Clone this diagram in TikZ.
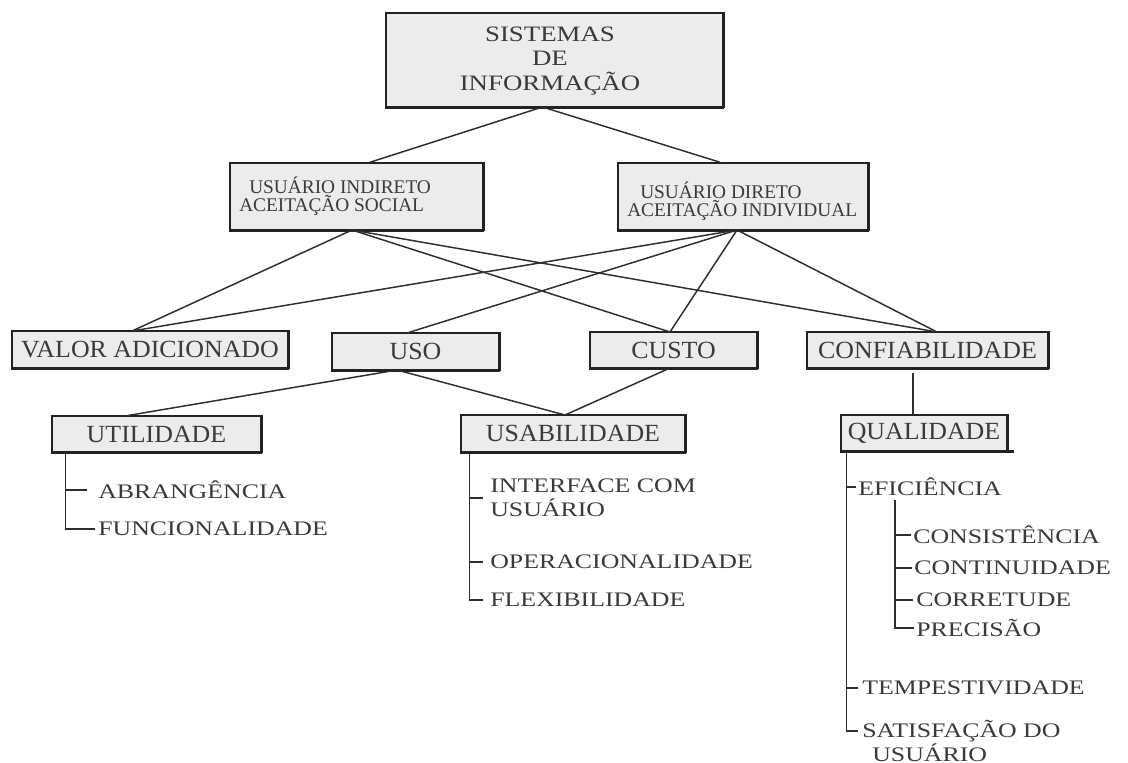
\documentclass[tikz,border=0pt]{standalone}
\usepackage{fontspec}
\setmainfont{Liberation Serif}
\newfontfamily\bxfont{Liberation Serif}[FakeStretch=1.05]
\newfontfamily\chfont{Liberation Serif}[FakeStretch=1.25]
\newfontfamily\tpfont{Liberation Serif}[FakeStretch=1.22]
\usetikzlibrary{calc}
\definecolor{txtc}{HTML}{3A3A3A}
\definecolor{boxfill}{HTML}{ECECEC}
\definecolor{edgec}{HTML}{222222}
\definecolor{linec}{HTML}{2E2E2E}
\begin{document}
\begin{tikzpicture}[x=0.75pt,y=-0.75pt,
  box/.style={draw=edgec,line width=1.1pt,fill=boxfill,inner sep=0pt,text=txtc,
    font=\bxfont\fontsize{18.5}{20}\selectfont},
  toptxt/.style={inner sep=0pt,text=txtc,align=center,font=\tpfont\fontsize{16.5}{18.4}\selectfont},
  usrtxt/.style={inner sep=0pt,text=txtc,align=left,anchor=west,font=\fontsize{14.5}{13.5}\selectfont},
  child/.style={inner ysep=0pt,text=txtc,anchor=west,align=left,font=\chfont\fontsize{15.5}{18}\selectfont},
  conn/.style={draw=linec,line width=1.1pt},
  shadowb/.style={draw=edgec,line width=2.4pt},
  shadowr/.style={draw=edgec,line width=1.6pt}]
\useasboundingbox (0,0) rectangle (1128,763);
\fill[white] (0,0) rectangle (1128,763);

% connector junctions
\coordinate (topj) at (542.5,107);
\coordinate (indj) at (352,230);
\coordinate (dirj) at (737,230);
\coordinate (valj) at (132,331);
\coordinate (usoj) at (407,333);
\coordinate (cusj) at (670,332);
\coordinate (conj) at (937,332);
\coordinate (usob) at (397,370);
\coordinate (cusb) at (670,368);
\coordinate (utij) at (125,416);
\coordinate (usaj) at (565,415);

% boxes
\node[box,minimum width=252.75pt,minimum height=70.5pt] (top) at (554.5,60) {};
\node[toptxt] (top-t) at (550,61) {SISTEMAS\\DE\\INFORMAÇÃO};
\node[box,minimum width=189.75pt,minimum height=50.25pt] (ind) at (356.5,196.5) {};
\node[usrtxt] (ind-t) at (239,196) {\hspace*{7.5pt}USUÁRIO INDIRETO\\ACEITAÇÃO SOCIAL};
\node[box,minimum width=187.5pt,minimum height=50.25pt] (dir) at (743,196.5) {};
\node[usrtxt] (dir-t) at (627,201) {\hspace*{9.75pt}USUÁRIO DIRETO\\ACEITAÇÃO INDIVIDUAL};
\node[box,minimum width=207pt,minimum height=27.75pt] (valor) at (150,349.5) {VALOR ADICIONADO};
\node[box,minimum width=125.25pt,minimum height=27.75pt] (uso) at (415.5,351.5) {USO};
\node[box,minimum width=125.25pt,minimum height=27pt] (custo) at (673.5,350) {CUSTO};
\node[box,minimum width=180.75pt,minimum height=27pt] (conf) at (927.5,350) {CONFIABILIDADE};
\node[box,minimum width=156.75pt,minimum height=27pt] (util) at (156.5,434) {UTILIDADE};
\node[box,minimum width=168pt,minimum height=27.75pt] (usab) at (573,433.5) {USABILIDADE};
\node[box,minimum width=124.5pt,minimum height=27pt] (qual) at (924,433) {QUALIDADE};

\foreach \n in {top,ind,dir,valor,uso,custo,conf,util,usab,qual}{
  \draw[shadowr] (\n.north east) -- (\n.south east);
  \draw[shadowb] (\n.south west) -- (\n.south east);
}
\draw[shadowb] (qual.south east) -- ++(6,0);

% upper connectors
\draw[conn] (topj) -- (ind.north -| 370,0);
\draw[conn] (topj) -- (dir.north -| 720,0);
\draw[conn] (indj) -- (valj);
\draw[conn] (indj) -- (cusj);
\draw[conn] (indj) -- (conj);
\draw[conn] (dirj) -- (valj);
\draw[conn] (dirj) -- (usoj);
\draw[conn] (dirj) -- (cusj);
\draw[conn] (dirj) -- (conj);
\draw[conn] (usob) -- (utij);
\draw[conn] (usob) -- (usaj);
\draw[conn] (cusb) -- (usaj);
\draw[conn] ([xshift=-8.25pt]qual.north) -- ([xshift=-8.25pt,yshift=-3pt]qual.north |- conf.south);

% UTILIDADE children
\node[child,inner xsep=8.25pt] (abr) at (87,490) {ABRANGÊNCIA};
\node[child,inner xsep=2.25pt] (fun) at (95,529) {FUNCIONALIDADE};
\draw[conn] ([xshift=10.5pt]util.south west) |- (fun.west);
\draw[conn] (abr.west) -- ++(-21,0);

% USABILIDADE children
\node[child,inner xsep=5.25pt] (intf) at (483,498) {INTERFACE COM\\USUÁRIO};
\node[child,inner xsep=5.25pt] (oper) at (483,562) {OPERACIONALIDADE};
\node[child,inner xsep=5.25pt] (flex) at (483,600) {FLEXIBILIDADE};
\draw[conn] ([xshift=6.75pt]usab.south west) |- (flex.west);
\draw[conn] (intf.west) -- ++(-13,0);
\draw[conn] (oper.west) -- ++(-13,0);

% QUALIDADE children
\node[child,inner xsep=1.5pt] (efic) at (856,487) {EFICIÊNCIA};
\node[child,inner xsep=3pt] (temp) at (858,688) {TEMPESTIVIDADE};
\node[child,inner xsep=3pt] (sat) at (858,731) {SATISFAÇÃO DO};
\node[child,inner xsep=0pt] (sat2) at (872,753) {USUÁRIO};
\draw[conn] ([xshift=4.5pt]qual.south west) |- (sat.west);
\draw[conn] (efic.west) -- ++(-9,0);
\draw[conn] (temp.west) -- ++(-11,0);

% EFICIENCIA children
\coordinate (esub) at (895,500);
\node[child,inner xsep=1.5pt] (cons) at (911,535) {CONSISTÊNCIA};
\node[child,inner xsep=1.5pt] (cont) at (912,568) {CONTINUIDADE};
\node[child,inner xsep=2.25pt] (corr) at (913,600) {CORRETUDE};
\node[child,inner xsep=1.5pt] (prec) at (914,628) {PRECISÃO};
\draw[conn] (esub) |- (prec.west);
\draw[conn] (cons.west) -- (cons.west -| esub);
\draw[conn] (cont.west) -- (cont.west -| esub);
\draw[conn] (corr.west) -- (corr.west -| esub);
\end{tikzpicture}
\end{document}
